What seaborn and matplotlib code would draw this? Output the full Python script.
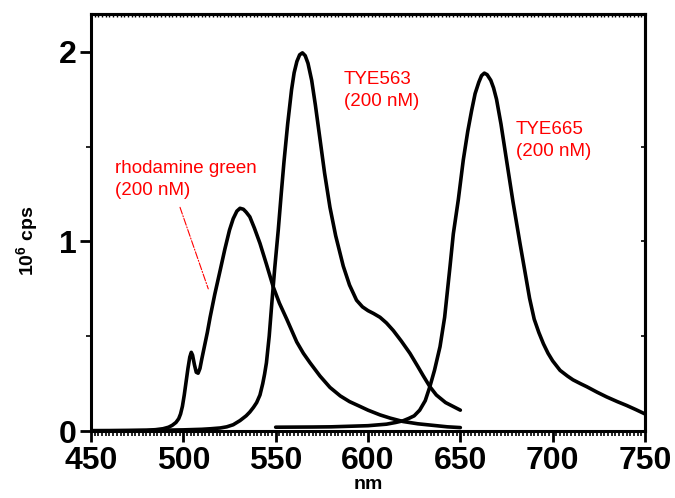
import matplotlib
matplotlib.use("Agg")
import matplotlib.pyplot as plt
from matplotlib.ticker import MultipleLocator
import seaborn as sns
import pandas as pd

# ---- data ----
rg_nm = [450, 470, 480, 485, 489, 492, 494, 496, 497.5, 498.5, 499.5, 500.5, 501.5, 502.5, 503.5,
         504.3, 505, 506, 507, 508, 509, 510, 511.5, 513, 514.5, 517, 520, 522.5, 525, 527, 529,
         530.7, 532.5, 534, 536, 538.5, 541.5, 545, 548.7, 552, 556, 561.4, 565, 568.6, 574,
         579.4, 585, 590, 595.6, 600, 606.5, 612, 619, 627, 635, 643, 650]
rg_cps = [0.0, 0.002, 0.004, 0.007, 0.012, 0.02, 0.03, 0.045, 0.065, 0.09, 0.13, 0.19, 0.26, 0.33,
          0.39, 0.415, 0.40, 0.35, 0.31, 0.305, 0.33, 0.38, 0.45, 0.52, 0.60, 0.72, 0.85, 0.96,
          1.06, 1.12, 1.16, 1.175, 1.17, 1.155, 1.13, 1.07, 0.99, 0.88, 0.76, 0.675, 0.59, 0.47,
          0.41, 0.36, 0.29, 0.23, 0.185, 0.155, 0.13, 0.11, 0.085, 0.068, 0.05, 0.038, 0.03,
          0.022, 0.018]

t563_nm = [450, 480, 500, 510, 515, 520, 523.5, 527, 530.7, 534, 536, 538, 539.7, 541.5, 543, 544,
           545, 546.5, 547.8, 549.5, 551.4, 553, 554.5, 556.5, 558.6, 560, 561.5, 563, 564.5, 566,
           567.5, 569.5, 571.5, 574, 576.5, 579.4, 582.5, 586.6, 590, 593.8, 597, 600, 603,
           606.5, 610, 613.7, 618, 622.7, 627, 630, 633.5, 637, 642, 646, 650]
t563_cps = [0.002, 0.003, 0.006, 0.009, 0.012, 0.016, 0.022, 0.033, 0.055, 0.08, 0.10, 0.125, 0.15,
            0.19, 0.25, 0.30, 0.36, 0.50, 0.66, 0.86, 1.06, 1.25, 1.42, 1.62, 1.80, 1.89, 1.95,
            1.985, 1.995, 1.98, 1.94, 1.85, 1.72, 1.54, 1.36, 1.18, 1.03, 0.87, 0.77, 0.69, 0.655,
            0.635, 0.62, 0.60, 0.57, 0.53, 0.475, 0.41, 0.34, 0.29, 0.234, 0.19, 0.15, 0.13, 0.11]

t665_nm = [550, 570, 580, 590, 600, 605, 610, 615, 619, 622, 625, 628, 631, 633.5, 636, 639, 641.5,
           644.4, 646.2, 648.9, 651.6, 654, 656.1, 658, 660, 661.5, 663, 664.5, 666.5, 668, 669.6,
           672, 675, 678.5, 682.3, 685, 687.5, 690, 692.5, 695, 697.5, 700, 704, 708, 711, 715,
           718.4, 724, 729.2, 735, 740, 745, 750]
t665_cps = [0.02, 0.021, 0.022, 0.025, 0.028, 0.032, 0.036, 0.045, 0.054, 0.066, 0.08, 0.11, 0.16,
            0.234, 0.32, 0.445, 0.60, 0.867, 1.04, 1.22, 1.43, 1.58, 1.69, 1.78, 1.84, 1.875,
            1.888, 1.88, 1.85, 1.81, 1.75, 1.62, 1.43, 1.21, 0.99, 0.84, 0.70, 0.59, 0.52, 0.46,
            0.41, 0.37, 0.32, 0.29, 0.27, 0.25, 0.234, 0.205, 0.18, 0.155, 0.135, 0.113, 0.09]

labels = ["rhodamine green\n(200 nM)", "TYE563\n(200 nM)", "TYE665\n(200 nM)"]
x_ticks = [450, 500, 550, 600, 650, 700, 750]
y_ticks = [0, 1, 2]

# ---- style ----
sns.set_style("ticks")
plt.rcParams['font.family'] = ['Liberation Sans', 'DejaVu Sans']
plt.rcParams['mathtext.fontset'] = 'custom'
plt.rcParams['mathtext.rm'] = 'Liberation Sans:bold'
plt.rcParams['mathtext.bf'] = 'Liberation Sans:bold'
plt.rcParams['axes.labelcolor'] = 'black'
plt.rcParams['text.color'] = 'black'
plt.rcParams['xtick.color'] = 'black'
plt.rcParams['ytick.color'] = 'black'

df = pd.concat([
    pd.DataFrame({"nm": rg_nm, "cps": rg_cps, "dye": "rg"}),
    pd.DataFrame({"nm": t563_nm, "cps": t563_cps, "dye": "563"}),
    pd.DataFrame({"nm": t665_nm, "cps": t665_cps, "dye": "665"}),
])

fig = plt.figure(figsize=(6.75, 4.98), dpi=100)
ax = fig.add_axes([91 / 675, 1 - 431 / 498, (645 - 91) / 675, (431 - 14) / 498])

for dye in ["rg", "563", "665"]:
    sub = df[df.dye == dye]
    sns.lineplot(data=sub, x="nm", y="cps", ax=ax, color="black", lw=2.6,
                 estimator=None, sort=False, legend=False)
for ln in ax.lines:
    ln.set_solid_joinstyle('round')
    ln.set_solid_capstyle('round')

ax.set_xlim(450, 750)
ax.set_ylim(0, 2.2)

ax.set_xticks(x_ticks)
ax.set_xticklabels([str(v) for v in x_ticks])
ax.set_yticks(y_ticks)
ax.set_yticklabels([str(v) for v in y_ticks])
ax.xaxis.set_minor_locator(MultipleLocator(2))
ax.yaxis.set_minor_locator(MultipleLocator(0.5))

for lab in ax.get_xticklabels() + ax.get_yticklabels():
    lab.set_fontsize(23)
    lab.set_fontweight('bold')
    lab.set_color('black')

ax.tick_params(which='major', direction='out', length=8, width=2, colors='black')
ax.tick_params(axis='x', which='major', pad=3)
ax.tick_params(axis='y', which='major', pad=2)
ax.tick_params(which='minor', direction='out', length=3.5, width=1.2, colors='black')

for s in ax.spines.values():
    s.set_linewidth(2.2)
    s.set_color('black')
    s.set_visible(True)

# top / right inward ticks
sec_top = ax.secondary_xaxis('top')
sec_top.set_xticks([])
sec_top.xaxis.set_minor_locator(MultipleLocator(2))
sec_top.tick_params(which='minor', direction='in', length=2, width=1, colors='black')
sec_top.set_xticklabels([])
sec_top.spines['top'].set_linewidth(2.2)
sec_top.spines['top'].set_color('black')

sec_right = ax.secondary_yaxis('right')
sec_right.set_yticks([0.5, 1.0, 1.5])
sec_right.set_yticklabels([])
sec_right.tick_params(which='major', direction='in', length=3, width=1.2, colors='black')
sec_right.spines['right'].set_linewidth(2.2)
sec_right.spines['right'].set_color('black')

ax.set_xlabel("nm", fontsize=14, fontweight='bold', color='black')
ax.xaxis.set_label_coords(0.5, -0.108)
ax.set_ylabel(r"10$^{6}$ cps", fontsize=14, fontweight='bold', color='black')
ax.yaxis.set_label_coords(-0.091, 0.455)

red = '#ff0000'
ax.text(463, 1.43, labels[0], color=red, fontsize=13.5, ha='left', va='top', linespacing=1.4)
ax.text(587, 1.90, labels[1], color=red, fontsize=13.5, ha='left', va='top', linespacing=1.4)
ax.text(680, 1.635, labels[2], color=red, fontsize=13.5, ha='left', va='top', linespacing=1.4)

ax.annotate("", xy=(513.5, 0.75), xytext=(498.2, 1.18),
            arrowprops=dict(arrowstyle='-', color=red, lw=0.8, linestyle='-.',
                            shrinkA=0, shrinkB=0))

fig.savefig("out.png", dpi=100)
